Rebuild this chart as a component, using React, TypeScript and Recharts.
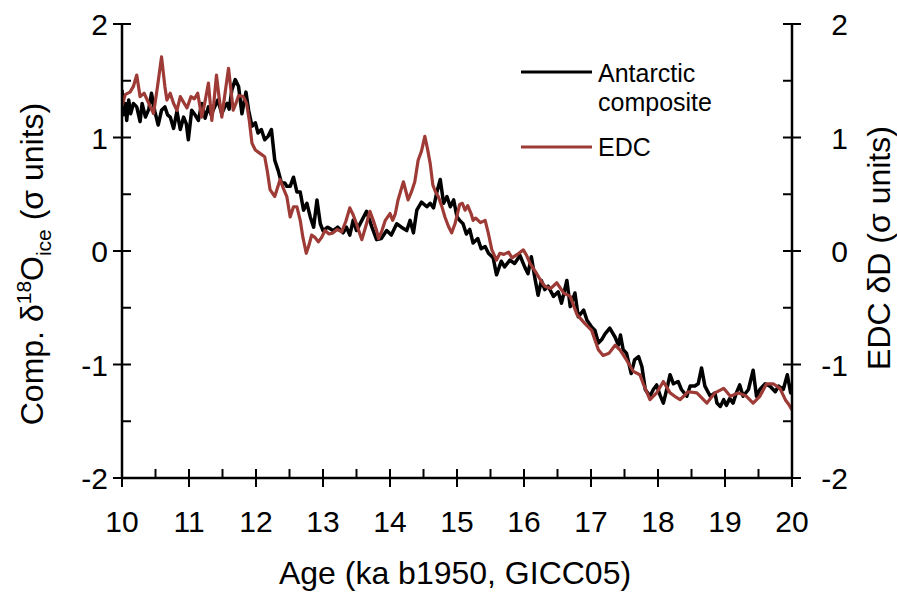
import React from 'react';
import { LineChart, Line, XAxis, YAxis, Legend, Label } from 'recharts';

const FONT = '"Liberation Sans", Arial, Helvetica, sans-serif';

// Antarctic composite (black)
const compAge = [
  10.00, 10.02, 10.05, 10.07, 10.10, 10.13, 10.17, 10.22, 10.27, 10.30, 10.35, 10.40, 10.44, 10.49, 10.54, 10.59, 10.64, 10.68,
  10.72, 10.77, 10.82, 10.87, 10.92, 10.96, 10.99, 11.04, 11.09, 11.14, 11.19, 11.24, 11.29, 11.33, 11.36, 11.43, 11.49, 11.54,
  11.57, 11.60, 11.64, 11.69, 11.74, 11.79, 11.85, 11.89, 11.94, 11.99, 12.03, 12.08, 12.13, 12.18, 12.23, 12.28, 12.33, 12.38,
  12.43, 12.46, 12.51, 12.56, 12.61, 12.66, 12.71, 12.76, 12.81, 12.86, 12.91, 12.96, 13.00, 13.07, 13.15, 13.22, 13.30, 13.35,
  13.40, 13.45, 13.50, 13.58, 13.65, 13.73, 13.80, 13.87, 13.95, 14.02, 14.10, 14.17, 14.25, 14.30, 14.35, 14.40, 14.47, 14.55,
  14.60, 14.65, 14.70, 14.75, 14.80, 14.85, 14.90, 14.95, 15.00, 15.04, 15.09, 15.14, 15.19, 15.24, 15.31, 15.36, 15.42, 15.47,
  15.54, 15.59, 15.66, 15.71, 15.79, 15.86, 15.94, 16.01, 16.06, 16.11, 16.16, 16.21, 16.26, 16.31, 16.36, 16.44, 16.51, 16.56,
  16.64, 16.69, 16.76, 16.81, 16.89, 16.94, 17.01, 17.06, 17.11, 17.16, 17.21, 17.28, 17.36, 17.41, 17.44, 17.48, 17.53, 17.60,
  17.65, 17.71, 17.76, 17.81, 17.88, 17.93, 17.98, 18.03, 18.08, 18.13, 18.18, 18.23, 18.30, 18.35, 18.43, 18.48, 18.55, 18.60,
  18.65, 18.70, 18.78, 18.85, 18.88, 18.93, 18.98, 19.02, 19.07, 19.12, 19.17, 19.22, 19.27, 19.35, 19.42, 19.47, 19.52, 19.60,
  19.67, 19.75, 19.80, 19.87, 19.93, 19.98, 20.00,
];
const compVal = [
  1.42, 1.20, 1.30, 1.15, 1.33, 1.21, 1.30, 1.27, 1.14, 1.30, 1.18, 1.25, 1.39, 1.23, 1.11, 1.24, 1.27, 1.20,
  1.18, 1.08, 1.23, 1.07, 1.18, 1.12, 0.98, 1.24, 1.20, 1.15, 1.30, 1.17, 1.27, 1.20, 1.24, 1.33, 1.21, 1.28,
  1.30, 1.25, 1.42, 1.51, 1.45, 1.21, 1.40, 1.24, 1.10, 1.13, 1.04, 1.07, 0.98, 1.01, 1.07, 0.80, 0.71, 0.60,
  0.60, 0.57, 0.57, 0.65, 0.52, 0.52, 0.36, 0.42, 0.30, 0.21, 0.45, 0.24, 0.18, 0.21, 0.18, 0.21, 0.16, 0.21,
  0.14, 0.27, 0.18, 0.27, 0.35, 0.21, 0.10, 0.11, 0.18, 0.14, 0.24, 0.21, 0.18, 0.27, 0.16, 0.36, 0.43, 0.39,
  0.42, 0.38, 0.52, 0.63, 0.42, 0.48, 0.39, 0.45, 0.30, 0.27, 0.24, 0.15, 0.19, 0.07, 0.11, 0.02, 0.04, -0.02,
  -0.06, -0.21, -0.09, -0.14, -0.08, -0.11, -0.04, -0.14, -0.20, -0.05, -0.23, -0.39, -0.26, -0.34, -0.31, -0.40, -0.36, -0.46,
  -0.26, -0.49, -0.37, -0.58, -0.52, -0.61, -0.67, -0.70, -0.81, -0.78, -0.73, -0.68, -0.76, -0.83, -0.74, -0.87, -0.90, -1.08,
  -0.96, -0.93, -1.02, -1.22, -1.28, -1.22, -1.18, -1.27, -1.34, -1.22, -1.09, -1.17, -1.15, -1.22, -1.28, -1.19, -1.19, -1.17,
  -1.03, -1.19, -1.28, -1.25, -1.34, -1.37, -1.31, -1.36, -1.30, -1.34, -1.25, -1.18, -1.28, -1.22, -1.05, -1.28, -1.22, -1.17,
  -1.19, -1.24, -1.19, -1.22, -1.09, -1.25, -1.17,
];

// EDC (red)
const edcAge = [
  10.00, 10.05, 10.12, 10.17, 10.22, 10.27, 10.33, 10.40, 10.47, 10.53, 10.59, 10.64, 10.67, 10.72, 10.77, 10.82, 10.87, 10.92,
  10.97, 11.03, 11.08, 11.13, 11.19, 11.24, 11.29, 11.34, 11.37, 11.41, 11.45, 11.49, 11.54, 11.59, 11.63, 11.66, 11.70, 11.74,
  11.81, 11.86, 11.90, 11.94, 11.99, 12.06, 12.13, 12.17, 12.21, 12.28, 12.36, 12.41, 12.46, 12.51, 12.56, 12.61, 12.66, 12.70,
  12.75, 12.79, 12.83, 12.88, 12.93, 12.98, 13.03, 13.09, 13.15, 13.21, 13.28, 13.34, 13.40, 13.45, 13.50, 13.55, 13.58, 13.64,
  13.70, 13.75, 13.80, 13.83, 13.88, 13.93, 14.00, 14.04, 14.08, 14.12, 14.20, 14.24, 14.27, 14.32, 14.37, 14.42, 14.47, 14.52,
  14.56, 14.60, 14.64, 14.68, 14.72, 14.77, 14.82, 14.87, 14.92, 14.97, 15.04, 15.08, 15.12, 15.16, 15.21, 15.24, 15.28, 15.35,
  15.42, 15.47, 15.52, 15.59, 15.64, 15.70, 15.77, 15.82, 15.90, 15.99, 16.04, 16.09, 16.19, 16.25, 16.31, 16.40, 16.49, 16.59,
  16.69, 16.79, 16.85, 16.91, 17.01, 17.11, 17.18, 17.27, 17.36, 17.43, 17.53, 17.63, 17.73, 17.78, 17.88, 17.98, 18.08, 18.18,
  18.25, 18.33, 18.45, 18.58, 18.73, 18.85, 18.98, 19.08, 19.20, 19.32, 19.42, 19.52, 19.62, 19.72, 19.82, 19.90, 19.95, 20.00,
];
const edcVal = [
  1.28, 1.38, 1.40, 1.45, 1.55, 1.36, 1.39, 1.30, 1.21, 1.45, 1.71, 1.45, 1.33, 1.39, 1.30, 1.24, 1.36, 1.31,
  1.26, 1.36, 1.34, 1.39, 1.18, 1.32, 1.48, 1.15, 1.30, 1.55, 1.35, 1.18, 1.40, 1.61, 1.40, 1.24, 1.30, 1.37,
  1.36, 1.30, 1.15, 0.95, 0.89, 0.86, 0.83, 0.70, 0.54, 0.48, 0.63, 0.55, 0.48, 0.30, 0.39, 0.39, 0.27, 0.12,
  -0.02, 0.05, 0.14, 0.12, 0.08, 0.12, 0.18, 0.15, 0.16, 0.19, 0.17, 0.26, 0.38, 0.32, 0.24, 0.15, 0.10, 0.22,
  0.35, 0.27, 0.18, 0.11, 0.18, 0.27, 0.33, 0.27, 0.33, 0.45, 0.61, 0.52, 0.45, 0.52, 0.61, 0.80, 0.88, 1.01,
  0.90, 0.77, 0.58, 0.52, 0.48, 0.40, 0.30, 0.22, 0.16, 0.24, 0.41, 0.42, 0.36, 0.40, 0.33, 0.27, 0.29, 0.25,
  0.27, 0.15, 0.01, -0.08, -0.02, -0.03, -0.01, -0.06, -0.03, 0.01, -0.04, -0.11, -0.20, -0.26, -0.31, -0.33, -0.28, -0.37,
  -0.40, -0.56, -0.60, -0.64, -0.70, -0.87, -0.92, -0.90, -0.83, -0.87, -0.96, -1.06, -1.09, -1.17, -1.31, -1.25, -1.15, -1.25,
  -1.28, -1.31, -1.24, -1.25, -1.34, -1.25, -1.21, -1.28, -1.25, -1.28, -1.34, -1.28, -1.17, -1.17, -1.21, -1.31, -1.35, -1.40,
];

const xTicks = [10, 10.5, 11, 11.5, 12, 12.5, 13, 13.5, 14, 14.5, 15, 15.5, 16, 16.5, 17, 17.5, 18, 18.5, 19, 19.5, 20];
const yTicks = [-2, -1.5, -1, -0.5, 0, 0.5, 1, 1.5, 2];

const compData = compAge.map((a, i) => ({ age: a, v: compVal[i] }));
const edcData = edcAge.map((a, i) => ({ age: a, v: edcVal[i] }));

const TICK_FS = 30;
const TITLE_FS = 32;

const BottomTick = (props: any) => {
  const { x, y, payload } = props;
  const v = payload.value;
  const major = Number.isInteger(v);
  return (
    <g>
      <line x1={x} x2={x} y1={y - 9} y2={major ? y + 9 : y} stroke="#000" strokeWidth={2} />
      {major && (
        <text x={x} y={y + 54} textAnchor="middle" fontSize={TICK_FS} fontFamily={FONT} fill="#000">
          {v}
        </text>
      )}
    </g>
  );
};

const LeftTick = (props: any) => {
  const { x, y, payload } = props;
  const v = payload.value;
  const major = Number.isInteger(v);
  return (
    <g>
      <line x1={major ? x - 9 : x} x2={x + 9} y1={y} y2={y} stroke="#000" strokeWidth={2} />
      {major && (
        <text x={x - 14} y={y + 11} textAnchor="end" fontSize={TICK_FS} fontFamily={FONT} fill="#000">
          {v}
        </text>
      )}
    </g>
  );
};

const RightTick = (props: any) => {
  const { x, y, payload } = props;
  const v = payload.value;
  const major = Number.isInteger(v);
  return (
    <g>
      <line x1={x - 9} x2={major ? x + 9 : x} y1={y} y2={y} stroke="#000" strokeWidth={2} />
      {major && (
        <text x={x + 56} y={y + 11} textAnchor="end" fontSize={TICK_FS} fontFamily={FONT} fill="#000">
          {v}
        </text>
      )}
    </g>
  );
};

const LeftTitle = () => (
  <text
    x={43}
    y={264}
    transform="rotate(-90 43 264)"
    textAnchor="middle"
    fontSize={TITLE_FS}
    fontFamily={FONT}
    fill="#000"
  >
    Comp. δ
    <tspan dy={-12} fontSize={21}>18</tspan>
    <tspan dy={12}>O</tspan>
    <tspan dy={8} fontSize={21}>ice</tspan>
    <tspan dy={-8}> (σ units)</tspan>
  </text>
);

const RightTitle = () => (
  <text
    x={890}
    y={248}
    transform="rotate(-90 890 248)"
    textAnchor="middle"
    fontSize={TITLE_FS}
    fontFamily={FONT}
    fill="#000"
  >
    EDC δD (σ units)
  </text>
);

const BottomTitle = () => (
  <text x={455} y={584} textAnchor="middle" fontSize={TITLE_FS} fontFamily={FONT} fill="#000">
    Age (ka b1950, GICC05)
  </text>
);

const LegendContent = () => (
  <svg width={260} height={120} style={{ display: 'block' }}>
    <line x1={6} x2={77} y1={22} y2={22} stroke="#000" strokeWidth={3} />
    <text x={83} y={32} fontSize={25} fontFamily={FONT} fill="#000">Antarctic</text>
    <text x={83} y={61} fontSize={25} fontFamily={FONT} fill="#000">composite</text>
    <line x1={6} x2={77} y1={97} y2={97} stroke="#9E3B36" strokeWidth={3} />
    <text x={83} y={106} fontSize={25} fontFamily={FONT} fill="#000">EDC</text>
  </svg>
);

export default function App() {
  return (
    <div style={{ position: 'absolute', left: 0, top: 0, width: 897, height: 592, background: '#fff' }}>
      <LineChart width={897} height={592} margin={{ top: 24, right: 0, bottom: 0, left: 0 }}>
        <XAxis
          type="number"
          dataKey="age"
          domain={[10, 20]}
          ticks={xTicks}
          interval={0}
          allowDataOverflow
          height={114}
          tickSize={0}
          tickMargin={0}
          tickLine={false}
          axisLine={{ stroke: '#000', strokeWidth: 2.5 }}
          tick={<BottomTick />}
        >
          <Label content={<BottomTitle />} />
        </XAxis>
        <YAxis
          yAxisId="left"
          orientation="left"
          type="number"
          domain={[-2, 2]}
          ticks={yTicks}
          interval={0}
          allowDataOverflow
          width={122}
          tickSize={0}
          tickMargin={0}
          tickLine={false}
          axisLine={{ stroke: '#000', strokeWidth: 2.5 }}
          tick={<LeftTick />}
        >
          <Label content={<LeftTitle />} />
        </YAxis>
        <YAxis
          yAxisId="right"
          orientation="right"
          type="number"
          domain={[-2, 2]}
          ticks={yTicks}
          interval={0}
          allowDataOverflow
          width={105}
          tickSize={0}
          tickMargin={0}
          tickLine={false}
          axisLine={{ stroke: '#000', strokeWidth: 2.5 }}
          tick={<RightTick />}
        >
          <Label content={<RightTitle />} />
        </YAxis>
        <Legend
          layout="horizontal"
          verticalAlign="middle"
          align="center"
          wrapperStyle={{ left: 515, top: 50, width: 260, height: 120 }}
          content={<LegendContent />}
        />
        <Line
          yAxisId="left"
          data={compData}
          dataKey="v"
          type="linear"
          stroke="#000"
          strokeWidth={3.5}
          dot={false}
          activeDot={false}
          isAnimationActive={false}
          strokeLinejoin="round"
        />
        <Line
          yAxisId="left"
          data={edcData}
          dataKey="v"
          type="linear"
          stroke="#9E3B36"
          strokeWidth={3.2}
          dot={false}
          activeDot={false}
          isAnimationActive={false}
          strokeLinejoin="round"
        />
      </LineChart>
    </div>
  );
}
